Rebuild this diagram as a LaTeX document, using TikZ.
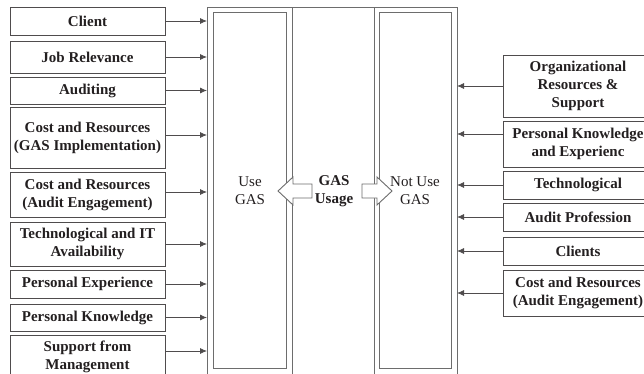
\documentclass[tikz,border=0pt]{standalone}
\usepackage{fontspec}
\setmainfont{Liberation Serif}
\usetikzlibrary{positioning,arrows.meta,calc}
\definecolor{ink}  {HTML}{231F20}
\definecolor{frame}{HTML}{6D6D6D}
\tikzset{
  >={Latex[length=7pt,width=6pt]},
  every node/.style={font=\fontsize{15}{18}\selectfont, text=ink},
  % --- factor boxes
  factor/.style = {draw=ink!80, line width=0.9pt, align=center, inner sep=2pt,
                   font=\fontsize{15}{18}\selectfont\bfseries},
  lfac/.style   = {factor, minimum width=155pt},
  rfac/.style   = {factor, minimum width=150pt},
  % --- edges and frame
  e/.style      = {->, draw=ink!80, line width=0.8pt},
  panel/.style  = {draw=frame, line width=0.9pt},
  blk/.style    = {draw=frame, fill=white, line width=0.9pt},
  lbl/.style    = {align=center},
}
\begin{document}
\begin{tikzpicture}[x=1pt,y=-1pt]
  \clip (0,0) rectangle (644,374);

  % double framed usage panel
  \draw[panel] (207,7) rectangle (457,400);
  \draw[panel] (292,7) rectangle (374,400);
  \draw[panel] (213,12) rectangle (286,368);
  \draw[panel] (379,12) rectangle (451,368);
  \coordinate (fw) at (207,0);
  \coordinate (fe) at (457,0);

  % hollow block arrows
  \filldraw[blk] (278,191) -- (293,177) -- (293,184) -- (312,184) -- (312,198)
    -- (293,198) -- (293,205) -- cycle;
  \filldraw[blk] (392,191) -- (377,177) -- (377,184) -- (362,184) -- (362,198)
    -- (377,198) -- (377,205) -- cycle;

  \node[lbl] (use) at (250,191) {Use\\GAS};
  \node[lbl, font=\fontsize{15}{18}\selectfont\bfseries] (usage) at (334,191) {GAS\\Usage};
  \node[lbl] (notuse) at (415,191) {Not Use\\GAS};

  % factors for using GAS
  \node[lfac, minimum height=28pt] (cl)  at (87.5,21)    {Client};
  \node[lfac, minimum height=32pt] (jr)  at (87.5,57)    {Job Relevance};
  \node[lfac, minimum height=27pt] (au)  at (87.5,90.5)  {Auditing};
  \node[lfac, minimum height=61pt] (crg) at (87.5,137.5) {Cost and Resources\\(GAS Implementation)};
  \node[lfac, minimum height=45pt] (cra) at (87.5,194.5) {Cost and Resources\\(Audit Engagement)};
  \node[lfac, minimum height=44pt] (tit) at (87.5,244)   {Technological and IT\\Availability};
  \node[lfac, minimum height=28pt] (pe)  at (87.5,284)   {Personal Experience};
  \node[lfac, minimum height=27pt] (pk)  at (87.5,317.5) {Personal Knowledge};
  \node[lfac, minimum height=43pt] (sm)  at (87.5,356.5) {Support from\\Management};

  \foreach \n in {cl,jr,au,pe,pk,tit}
    \draw[e] (\n.east) -- (\n.east -| fw);
  \foreach \n in {crg,cra}
    \draw[e] ([yshift=2.5pt]\n.east) -- ([yshift=2.5pt]\n.east -| fw);
  \draw[e] ([yshift=5.5pt]sm.east) -- ([yshift=5.5pt]sm.east -| fw);

  % factors for not using GAS
  \node[rfac, minimum height=62pt] (ors)  at (578,86)  {Organizational\\Resources \&\\Support};
  \node[rfac, minimum height=46pt] (pke)  at (578,144) {Personal Knowledge\\and Experienc};
  \node[rfac, minimum height=28pt] (tech) at (578,185) {Technological};
  \node[rfac, minimum height=28pt] (ap)   at (578,217) {Audit Profession};
  \node[rfac, minimum height=28pt] (cls)  at (578,251) {Clients};
  \node[rfac, minimum height=46pt] (crae) at (578,293) {Cost and Resources\\(Audit Engagement)};

  \foreach \n in {ors,tech,ap,cls,crae}
    \draw[e] (\n.west) -- (\n.west -| fe);
  \draw[e] ([yshift=10pt]pke.west) -- ([yshift=10pt]pke.west -| fe);
\end{tikzpicture}
\end{document}
